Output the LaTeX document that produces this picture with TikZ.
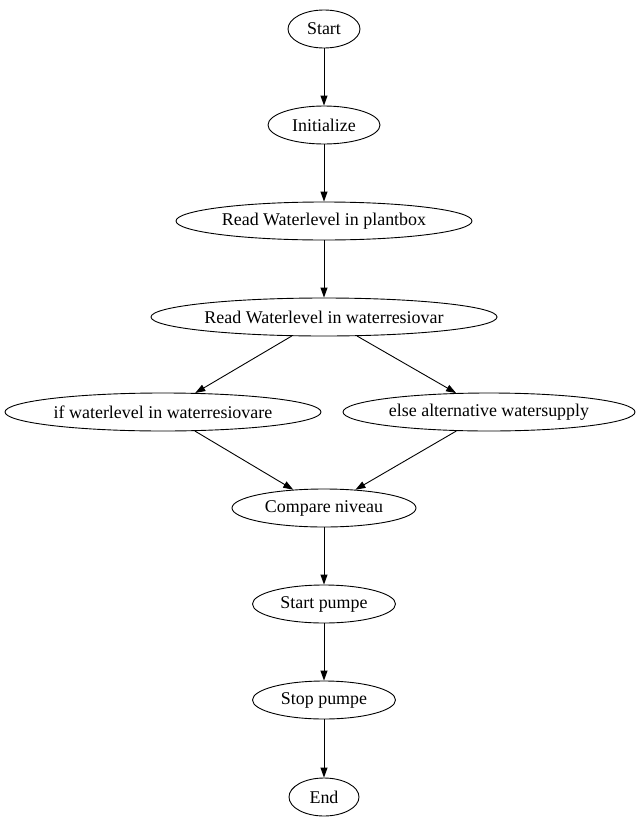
\documentclass[tikz,border=0pt]{standalone}
\usepackage{fontspec}
\setmainfont{Liberation Serif}
\usetikzlibrary{shapes.geometric,arrows.meta}

\begin{document}
\begin{tikzpicture}[x=1bp,y=-1bp,
    step box/.style={draw,ellipse,line width=0.9bp,inner sep=0pt,minimum height=38bp,font=\fontsize{18}{20}\selectfont},
    flow/.style={line width=0.9bp,-{Triangle[length=10bp,width=7bp]}}]

    \useasboundingbox (0,0) rectangle (641,827);

    % Nodes
    \node[step box,minimum width=72bp] (start) at (324,29) {Start};
    \node[step box,minimum width=112bp] (init) at (324,125) {Initialize};
    \node[step box,minimum width=296bp] (plant) at (324,221) {Read Waterlevel in plantbox};
    \node[step box,minimum width=346bp] (resv) at (324,317) {Read Waterlevel in waterresiovar};
    \node[step box,minimum width=316bp] (iflvl) at (163,412) {if waterlevel in waterresiovare};
    \node[step box,minimum width=292bp] (alt) at (489,412) {else alternative watersupply};
    \node[step box,minimum width=184bp] (comp) at (324,508) {Compare niveau};
    \node[step box,minimum width=143bp] (pstart) at (324,604) {Start pumpe};
    \node[step box,minimum width=143bp] (pstop) at (324,700) {Stop pumpe};
    \node[step box,minimum width=70bp] (end) at (324,797) {End};

    % Edges
    \draw[flow] (start) -- (init);
    \draw[flow] (init) -- (plant);
    \draw[flow] (plant) -- (resv);
    \draw[flow] (resv) -- (iflvl);
    \draw[flow] (resv) -- (alt);
    \draw[flow] (iflvl) -- (comp);
    \draw[flow] (alt) -- (comp);
    \draw[flow] (comp) -- (pstart);
    \draw[flow] (pstart) -- (pstop);
    \draw[flow] (pstop) -- (end);

\end{tikzpicture}
\end{document}
